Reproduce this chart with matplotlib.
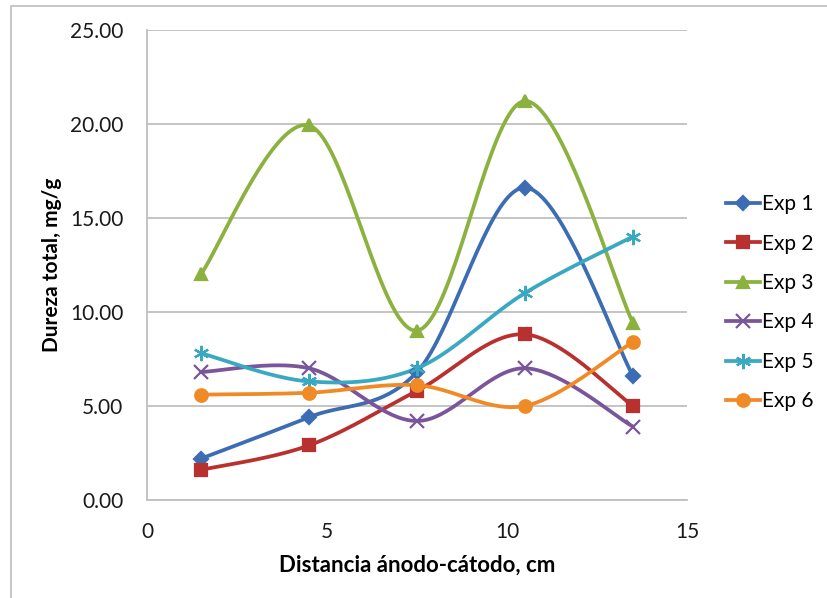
"""
Dureza total vs distancia ánodo-cátodo (Excel-style smoothed lines).
Writes out.png in the current directory.
"""

import matplotlib

matplotlib.use("Agg")
import matplotlib.pyplot as plt
import numpy as np
from matplotlib.patches import Rectangle

plt.rcParams["font.family"] = ["Lato", "DejaVu Sans"]

# --------- Data ---------

distancia = [1.5, 4.5, 7.5, 10.5, 13.5]

exp1 = [2.2, 4.4, 6.8, 16.6, 6.6]
exp2 = [1.6, 2.9, 5.8, 8.8, 5.0]
exp3 = [12.0, 19.9, 9.0, 21.2, 9.4]
exp4 = [6.8, 7.0, 4.2, 7.0, 3.9]
exp5 = [7.8, 6.3, 7.0, 11.0, 14.0]
exp6 = [5.6, 5.7, 6.1, 5.0, 8.4]

labels = ["Exp 1", "Exp 2", "Exp 3", "Exp 4", "Exp 5", "Exp 6"]
y_ticks = [0, 5, 10, 15, 20, 25]
x_ticks = [0, 5, 10, 15]

colors = ["#3C6DB4", "#B8312F", "#8BB13F", "#7A559C", "#3AA8C1", "#F08A26"]
markers = ["D", "s", "^", "x", (6, 2, 0), "o"]
msizes = [7, 9, 9, 10, 11, 9]


# --------- Helper utilities ---------

def smooth_curve(xs, ys, n=40):
    """Bezier smoothing like Excel: control points from neighbours / 6."""
    pts = np.column_stack([xs, ys]).astype(float)
    m = len(pts)
    out = []
    for i in range(m - 1):
        p0 = pts[max(i - 1, 0)]
        p1 = pts[i]
        p2 = pts[i + 1]
        p3 = pts[min(i + 2, m - 1)]
        c1 = p1 + (p2 - p0) / 6.0
        c2 = p2 - (p3 - p1) / 6.0
        t = np.linspace(0, 1, n)[:, None]
        seg = ((1 - t) ** 3 * p1 + 3 * (1 - t) ** 2 * t * c1
               + 3 * (1 - t) * t ** 2 * c2 + t ** 3 * p2)
        out.append(seg if i == 0 else seg[1:])
    curve = np.vstack(out)
    return curve[:, 0], curve[:, 1]


# --------- Figure ---------

fig = plt.figure(figsize=(8.27, 5.98), dpi=100)
ax = fig.add_axes([147 / 827, 98 / 598, 540 / 827, 470.5 / 598])

series = [exp1, exp2, exp3, exp4, exp5, exp6]
for ys, lab, col, mk, ms in zip(series, labels, colors, markers, msizes):
    sx, sy = smooth_curve(distancia, ys)
    ax.plot(sx, sy, color=col, linewidth=2.7, solid_capstyle="round", zorder=3)
    ax.plot(distancia, ys, linestyle="none", marker=mk, markersize=ms,
            color=col, markeredgecolor=col, markeredgewidth=1.6, zorder=4)
    # proxy for legend
    ax.plot([], [], color=col, linewidth=2.7, marker=mk, markersize=ms,
            markeredgecolor=col, markeredgewidth=1.6, label=lab)

ax.set_xlim(0, 15)
ax.set_ylim(0, 25)
ax.set_xticks(x_ticks)
ax.set_yticks(y_ticks)
ax.set_yticklabels([f"{v:.2f}" for v in y_ticks])
ax.tick_params(length=0, labelsize=15, colors="#1a1a1a")
ax.tick_params(axis="y", pad=17)
ax.tick_params(axis="x", pad=16)

ax.grid(axis="y", color="#BFBFBF", linewidth=1.3)
ax.set_axisbelow(True)
for side in ("top", "right"):
    ax.spines[side].set_visible(False)
for side in ("left", "bottom"):
    ax.spines[side].set_color("#BFBFBF")
    ax.spines[side].set_linewidth(1.3)

ax.set_xlabel("Distancia ánodo-cátodo, cm", fontsize=16, fontweight="bold",
              labelpad=9)
ax.set_ylabel("Dureza total, mg/g", fontsize=15, fontweight="bold")
ax.yaxis.set_label_coords(-0.157, 0.5)

fig.legend(loc="upper left", bbox_to_anchor=(718 / 827, 1 - 186 / 598),
           frameon=False, fontsize=15, handlelength=1.6, handletextpad=0.1,
           labelspacing=0.93, borderaxespad=0)

# outer chart border
fig.patches.append(Rectangle((11 / 827, -0.05), 1.0, 1.05 - 6 / 598,
                             transform=fig.transFigure, fill=False,
                             edgecolor="#BDBDBD", linewidth=1.2))

fig.savefig("out.png", dpi=100)
plt.close(fig)
